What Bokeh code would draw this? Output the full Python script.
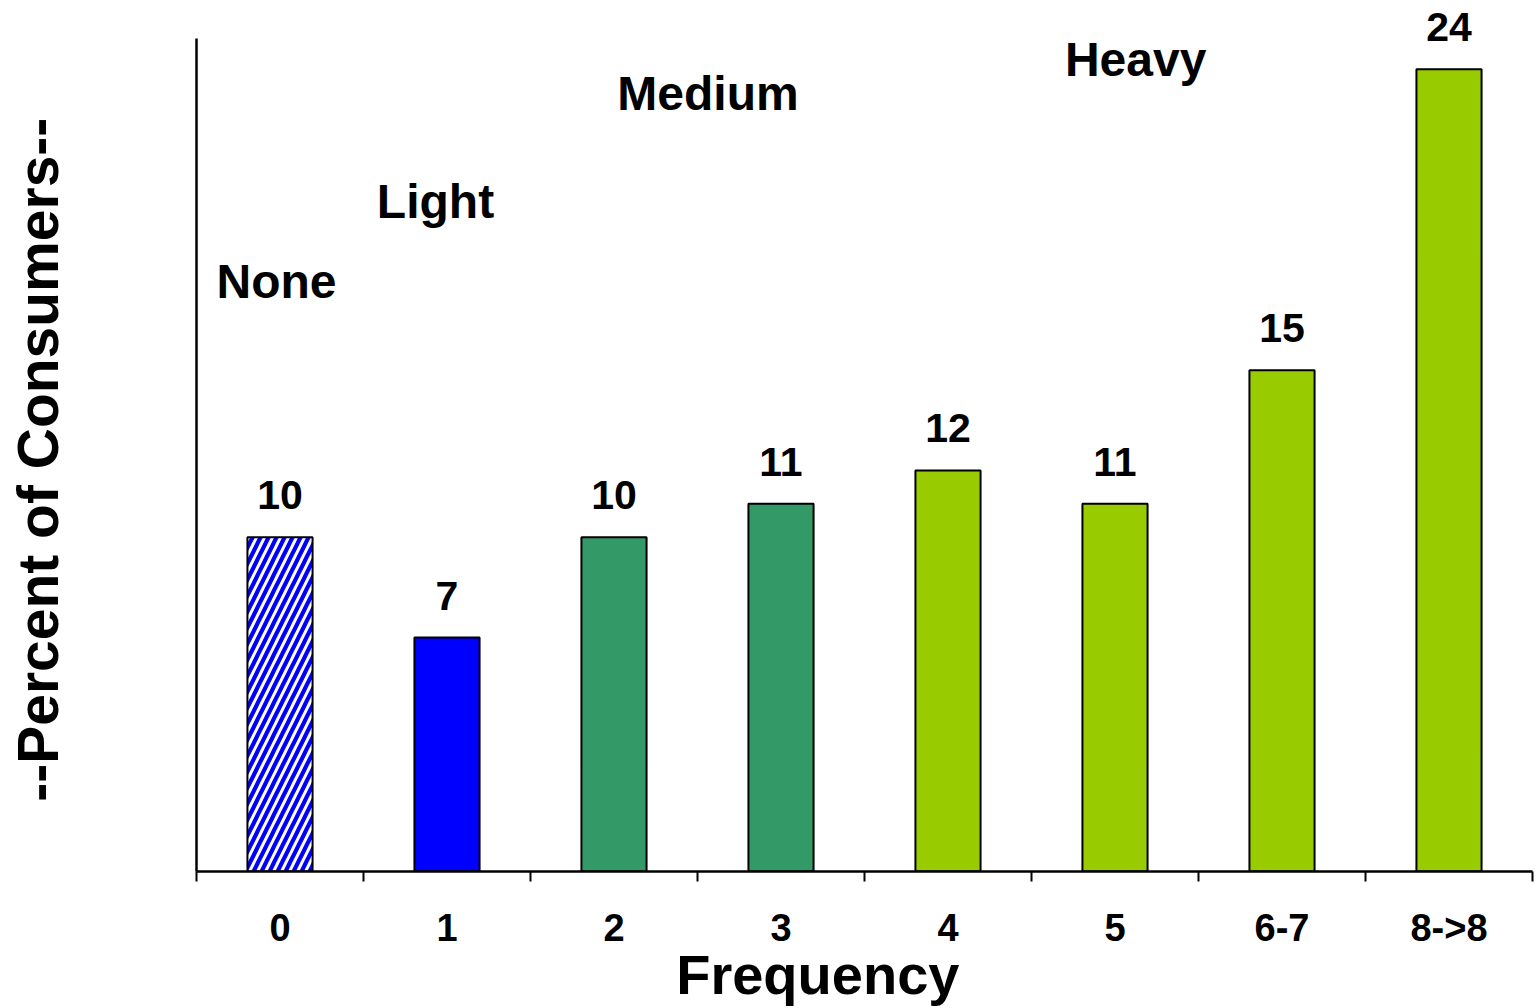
from bokeh.plotting import figure
from bokeh.models import ColumnDataSource, FixedTicker, Range1d, LabelSet, Label
from bokeh.core.properties import value
from bokeh.embed import file_html
from bokeh.resources import INLINE

categories = ["0", "1", "2", "3", "4", "5", "6-7", "8->8"]
percent = [10, 7, 10, 11, 12, 11, 15, 24]
fill_colors = ["#0000FF", "#0000FF", "#339966", "#339966", "#99CC00", "#99CC00", "#99CC00", "#99CC00"]
hatches = ["/", " ", " ", " ", " ", " ", " ", " "]
groups = ["None", "Light", "Medium", "Heavy"]
group_pos = [(0.12, 17.1), (1.08, 19.5), (2.52, 22.75), (5.2, 23.76)]

FONT = "Liberation Sans"

xs = [i + 0.5 for i in range(len(categories))]
src = ColumnDataSource(dict(x=xs, top=percent, color=fill_colors, hatch=hatches,
                            label=[str(v) for v in percent]))

p = figure(width=1536, height=1008, output_backend="svg", toolbar_location=None,
           x_range=Range1d(0, len(categories)), y_range=Range1d(0, 26.06),
           min_border_left=196, min_border_top=0, min_border_bottom=130, min_border_right=4)
p.outline_line_color = None
p.grid.grid_line_color = None
p.background_fill_color = "white"

p.vbar(x="x", top="top", width=0.39, bottom=0, source=src, fill_color="color",
       line_color="black", line_width=2, hatch_pattern="hatch", hatch_color="white",
       hatch_scale=16, hatch_weight=3)

labels = LabelSet(x="x", y="top", text="label", source=src, text_align="center",
                  text_baseline="alphabetic", y_offset=28, text_font=value(FONT),
                  text_font_style="bold", text_font_size="41px", text_color="black")
p.add_layout(labels)

for g, (gx, gy) in zip(groups, group_pos):
    p.add_layout(Label(x=gx, y=gy, y_offset=18, text=g, text_font=FONT,
                       text_font_style="bold", text_font_size="48px",
                       text_baseline="alphabetic", text_align="left", text_color="black"))

ticker = FixedTicker(ticks=xs, minor_ticks=list(range(len(categories) + 1)))
p.xaxis.ticker = ticker
p.xaxis.major_label_overrides = {x: c for x, c in zip(xs, categories)}
p.xaxis.major_tick_line_color = None
p.xaxis.minor_tick_line_color = "black"
p.xaxis.minor_tick_line_width = 2
p.xaxis.minor_tick_out = 10
p.xaxis.minor_tick_in = 0
p.xaxis.axis_line_width = 2.5
p.xaxis.axis_line_color = "black"
p.xaxis.major_label_text_font = FONT
p.xaxis.major_label_text_font_style = "bold"
p.xaxis.major_label_text_font_size = "38px"
p.xaxis.major_label_text_color = "black"
p.xaxis.major_label_standoff = 25
p.xaxis.axis_label = "Frequency" + "\u00a0" * 6
p.xaxis.axis_label_text_font = FONT
p.xaxis.axis_label_text_font_style = "bold"
p.xaxis.axis_label_text_font_size = "56px"
p.xaxis.axis_label_text_color = "black"
p.xaxis.axis_label_standoff = -9

p.yaxis.ticker = FixedTicker(ticks=[])
p.yaxis.bounds = (0, 24.93)
p.yaxis.major_tick_line_color = None
p.yaxis.minor_tick_line_color = None
p.yaxis.major_label_text_font_size = "0px"
p.yaxis.axis_line_width = 2.5
p.yaxis.axis_line_color = "black"
p.yaxis.axis_label = "--Percent of Consumers--" + "\u00a0" * 3
p.yaxis.axis_label_text_font = FONT
p.yaxis.axis_label_text_font_style = "bold"
p.yaxis.axis_label_text_font_size = "57px"
p.yaxis.axis_label_text_color = "black"
p.yaxis.axis_label_standoff = 127

open("out.html", "w").write(file_html(p, INLINE))
